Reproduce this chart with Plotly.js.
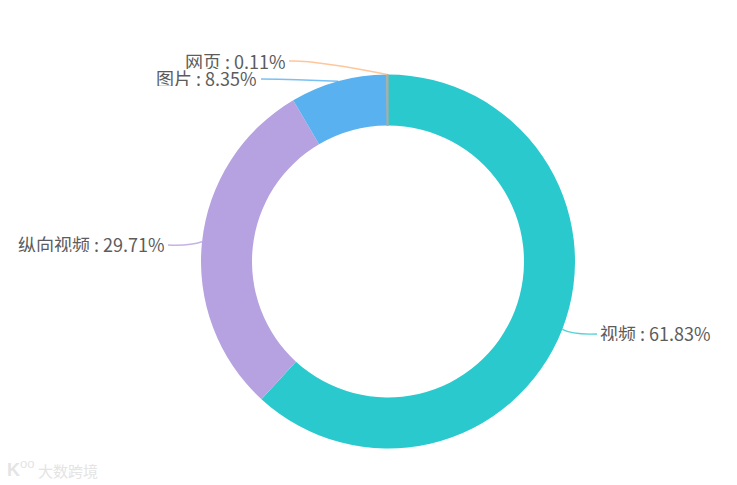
<!DOCTYPE html>
<html><head><meta charset="utf-8">
<script src="https://cdn.plot.ly/plotly-3.0.1.min.js"></script>
<style>html,body{margin:0;padding:0;background:#fff}#c{width:737px;height:485px}</style>
</head><body><div id="c"></div>
<script>
const categories = ['视频','纵向视频','图片','网页'];
const shares = [61.83,29.71,8.35,0.11];
const colors = ['#2ac9ce','#b6a2e0','#5ab1ef','#ffb980'];
const W=737,H=485,cx=388,cy=261.5,R=187,hole=136/187;
const px=x=>x/W, py=y=>1-y/H;
// label layout: knee and end of each leader line, and the label edge, in pixels
const knees=[[573,335,597,334,598,'left'],[190,246,168,245,167,'right'],[295,79.5,261,79,259,'right'],[315,60,289,61,288,'right']];
const labelY=[332,243,77.5,60];
let cum=0;const shapes=[],annotations=[];
categories.forEach((c,i)=>{
  const a=(cum+shares[i]/2)/100*2*Math.PI;cum+=shares[i];
  const sx=cx+R*Math.sin(a),sy=cy-R*Math.cos(a);
  const k=knees[i];
  shapes.push({type:'path',xref:'paper',yref:'paper',layer:'above',opacity:0.8,
    path:`M${px(sx)},${py(sy)} Q${px(k[0])},${py(k[1])} ${px(k[2])},${py(k[3])}`,
    line:{color:colors[i],width:1.4}});
  annotations.push({xref:'paper',yref:'paper',x:px(k[4]),y:py(labelY[i]),xanchor:k[5],yanchor:'middle',height:17,
    showarrow:false,text:`${c} : ${shares[i].toFixed(2)}%`,
    font:{family:'"Noto Sans CJK SC","Noto Sans",sans-serif',size:18,color:'#5c5c5c'}});
});
// faint watermark
annotations.push({xref:'paper',yref:'paper',x:px(36),y:py(470),xanchor:'left',yanchor:'middle',showarrow:false,
  text:'大数跨境',font:{family:'"Noto Sans CJK SC",sans-serif',size:15,color:'#e4e4e4'}});
annotations.push({xref:'paper',yref:'paper',x:px(5),y:py(470),xanchor:'left',yanchor:'middle',showarrow:false,
  text:'<b>K</b>',font:{family:'"Liberation Sans",sans-serif',size:18,color:'#e4e4e4'}});
annotations.push({xref:'paper',yref:'paper',x:px(18),y:py(463),xanchor:'left',yanchor:'middle',showarrow:false,
  text:'oo',font:{family:'"Liberation Sans",sans-serif',size:13,color:'#e4e4e4'}});
Plotly.newPlot('c',[{type:'pie',labels:categories,values:shares,sort:false,direction:'clockwise',rotation:0,
  hole:hole,textinfo:'none',hoverinfo:'label+percent',showlegend:false,
  marker:{colors:colors,line:{width:[0,0,0,1.2],color:'#a8aea6'}},
  domain:{x:[px(cx-R),px(cx+R)],y:[py(cy+R),py(cy-R)]}}],
  {width:W,height:H,margin:{l:0,r:0,t:0,b:0},paper_bgcolor:'#fff',showlegend:false,shapes,annotations},
  {displayModeBar:false,staticPlot:true});
</script></body></html>
